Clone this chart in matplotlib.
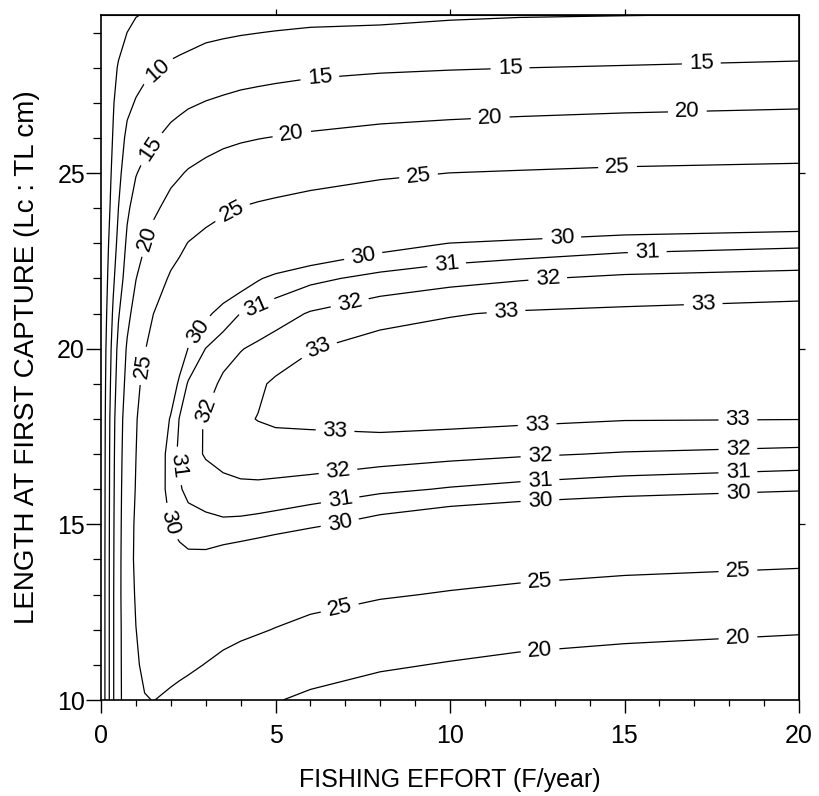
import numpy as np
import matplotlib
matplotlib.use("Agg")
import matplotlib.pyplot as plt
from matplotlib.ticker import MultipleLocator

plt.rcParams['font.family'] = ['Liberation Sans', 'DejaVu Sans']

# Fishing effort F (/year) grid columns
effort = [0, 0.1, 0.2, 0.35, 0.5, 0.75, 1.0, 1.25, 1.5, 2, 2.25, 2.5, 3, 3.5, 4, 4.5, 5, 6, 8, 10, 12, 15, 20]
# Length at first capture Lc (cm) grid rows
lc = [10, 11, 12, 13, 14, 15, 16, 17, 18, 19, 20, 21, 22, 23, 24, 25, 26, 27, 28, 29, 29.5]

# Yield per recruit (rows = lc, columns = effort)
ypr = [
    [0, 4.5, 8.5, 14.6, 18.8, 22.3, 24.0, 24.85, 25.05, 24.5, 24.15, 23.8, 23.1, 22.4, 21.7, 21.0, 20.2, 19.28, 18.0, 17.0, 16.3, 15.8, 15.4],
    [0, 4.5, 8.5, 14.6, 18.8, 22.5, 24.6, 25.6, 26.0, 25.86, 25.7, 25.49, 24.91, 24.26, 23.7, 23.1, 22.44, 21.67, 20.49, 19.74, 19.04, 18.4, 17.7],
    [0, 4.5, 8.5, 14.6, 18.8, 22.6, 24.95, 26.2, 26.9, 26.94, 26.9, 26.88, 26.48, 26.02, 25.63, 25.3, 24.88, 24.05, 22.93, 22.25, 21.64, 21.05, 20.38],
    [0, 4.5, 8.5, 14.6, 18.9, 22.8, 25.4, 26.8, 27.6, 28.02, 28.15, 28.27, 28.04, 27.71, 27.41, 27.15, 26.81, 26.21, 25.32, 24.75, 24.24, 23.68, 23.08],
    [0, 4.5, 8.5, 14.5, 18.7, 23.2, 25.7, 27.3, 28.2, 29.1, 29.6, 29.75, 29.7, 29.41, 29.2, 28.98, 28.71, 28.24, 27.43, 26.91, 26.54, 26.1, 25.65],
    [0, 4.4, 8.4, 14.4, 18.6, 23.0, 25.6, 27.6, 28.6, 30.1, 30.4, 30.6, 30.76, 30.82, 30.76, 30.65, 30.52, 30.21, 29.54, 29.04, 28.7, 28.33, 27.89],
    [0, 4.35, 8.3, 14.2, 18.5, 22.7, 25.2, 27.5, 28.75, 30.6, 30.9, 31.25, 31.44, 31.69, 31.79, 31.8, 31.75, 31.61, 31.21, 30.92, 30.7, 30.43, 30.11],
    [0, 4.25, 8.2, 14.0, 18.3, 22.4, 24.95, 27.2, 28.6, 30.65, 31.15, 31.55, 32.1, 32.35, 32.5, 32.55, 32.54, 32.54, 32.44, 32.27, 32.11, 31.93, 31.76],
    [0, 4.15, 8.0, 13.7, 18.0, 22.1, 24.7, 26.8, 28.2, 30.15, 31.05, 31.5, 32.1, 32.5, 32.85, 33.03, 33.15, 33.2, 33.35, 33.3, 33.2, 33.05, 33.02],
    [0, 3.9, 7.5, 12.8, 17.2, 21.3, 24.0, 26.0, 27.4, 29.04, 30.3, 31.1, 31.5, 32.25, 32.5, 32.85, 33.15, 33.35, 33.6, 33.6, 33.55, 33.5, 33.5],
    [0, 3.6, 7.0, 12.0, 16.3, 20.5, 23.2, 24.8, 26.3, 27.83, 29.0, 30.05, 31.02, 31.48, 31.95, 32.2, 32.46, 32.96, 33.4, 33.5, 33.55, 33.55, 33.6],
    [0, 3.2, 6.1, 10.7, 14.6, 18.9, 21.6, 23.6, 24.98, 26.63, 27.5, 28.42, 29.72, 30.49, 31.02, 31.3, 31.56, 32.09, 32.65, 32.94, 33.1, 33.2, 33.35],
    [0, 2.7, 5.3, 9.2, 12.8, 17.0, 19.9, 22.0, 23.3, 25.42, 26.1, 26.76, 27.85, 28.8, 29.36, 29.9, 30.29, 30.75, 31.33, 31.69, 31.92, 32.18, 32.37],
    [0, 2.3, 4.6, 8.0, 11.2, 15.8, 18.3, 19.8, 21.5, 23.57, 24.3, 25.1, 25.97, 26.69, 27.23, 27.7, 28.14, 28.7, 29.51, 30.02, 30.25, 30.57, 30.79],
    [0, 1.95, 3.9, 6.8, 10.02, 14.3, 16.7, 18.2, 19.2, 21.37, 22.05, 22.75, 23.79, 24.49, 25.1, 25.5, 25.81, 26.34, 27.07, 27.5, 27.79, 28.18, 28.46],
    [0, 1.7, 3.45, 6.0, 8.8, 12.6, 14.8, 16.0, 16.89, 18.96, 19.65, 20.36, 21.26, 21.92, 22.4, 22.78, 23.09, 23.68, 24.52, 25.02, 25.25, 25.57, 25.86],
    [0, 1.5, 3.0, 5.3, 7.7, 11.0, 12.8, 13.8, 14.55, 16.23, 16.85, 17.47, 18.39, 19.14, 19.59, 19.9, 20.15, 20.61, 21.34, 21.77, 22.08, 22.43, 22.78],
    [0, 1.3, 2.65, 4.7, 6.7, 9.0, 10.3, 11.3, 12.02, 13.46, 13.97, 14.48, 15.16, 15.69, 16.19, 16.53, 16.83, 17.33, 17.97, 18.37, 18.67, 19.02, 19.41],
    [0, 1.1, 2.2, 3.9, 5.35, 7.2, 8.3, 9.0, 9.46, 10.65, 11.05, 11.43, 12.14, 12.53, 12.93, 13.22, 13.5, 13.97, 14.45, 14.75, 14.97, 15.23, 15.7],
    [0, 0.75, 1.5, 2.6, 3.6, 5.02, 5.9, 6.4, 6.76, 7.77, 8.1, 8.4, 9.1, 9.45, 9.73, 9.95, 10.17, 10.52, 10.77, 11.23, 11.49, 11.69, 12.02],
    [0, 0.5, 1.0, 1.8, 2.55, 3.8, 4.85, 5.2, 5.4, 6.3, 6.6, 6.9, 7.55, 7.85, 8.03, 8.23, 8.43, 8.78, 8.99, 9.48, 9.76, 9.93, 10.18],
]

unlabeled_levels = [5]
label_levels = [10, 15, 20, 25, 30, 31, 32, 33]
label_spots = [
    (1.63, 27.91),
    (1.4, 25.71), (6.27, 27.71), (11.72, 28.0), (17.2, 28.12),
    (1.35, 23.14), (5.47, 26.09), (11.15, 26.6), (16.8, 26.79), (12.58, 11.43), (18.25, 11.8),
    (1.22, 19.51), (3.75, 23.91), (9.1, 24.9), (14.8, 25.2), (6.85, 12.57), (12.58, 13.35), (18.25, 13.68),
    (2.78, 20.5), (7.5, 22.71), (13.2, 23.2), (1.92, 15.06), (6.85, 15.0), (12.58, 15.62), (18.25, 15.9),
    (4.4, 21.34), (9.9, 22.43), (15.65, 22.8), (2.2, 16.66), (6.85, 15.71), (12.58, 16.2), (18.25, 16.48),
    (3.04, 18.23), (7.1, 21.43), (12.8, 22.0), (6.8, 16.43), (12.58, 16.91), (18.25, 17.15),
    (6.2, 20.1), (11.6, 21.14), (17.25, 21.43), (6.7, 17.5), (12.5, 17.77), (18.25, 17.98),
]

fig = plt.figure(figsize=(8.19, 7.96), dpi=100)
ax = fig.add_axes([101 / 819, 1 - 700 / 796, 698 / 819, 685 / 796])

Z = np.array(ypr)
ax.contour(effort, lc, Z, levels=unlabeled_levels, colors='black', linewidths=0.9)
cs = ax.contour(effort, lc, Z, levels=label_levels, colors='black', linewidths=0.9)
ax.clabel(cs, manual=label_spots, fmt='%d', fontsize=16, inline=True, inline_spacing=7)

ax.set_xlim(0, 20)
ax.set_ylim(10, 29.5)
ax.set_xticks([0, 5, 10, 15, 20])
ax.set_yticks([10, 15, 20, 25])
ax.xaxis.set_minor_locator(MultipleLocator(1))
ax.yaxis.set_minor_locator(MultipleLocator(1))
ax.tick_params(axis='x', which='major', direction='out', length=9, width=1, labelsize=18, pad=8)
ax.tick_params(axis='x', which='minor', direction='out', length=4, width=0.9)
ax.tick_params(axis='y', which='major', direction='out', length=10.5, width=1, labelsize=18, pad=1)
ax.tick_params(axis='y', which='minor', direction='out', length=6, width=0.9)

top = ax.secondary_xaxis('top')
top.set_xticks([5, 10, 15])
top.set_xticklabels([])
top.tick_params(direction='out', length=4, width=0.9)
right = ax.secondary_yaxis('right')
right.set_yticks([15, 20, 25])
right.set_yticklabels([])
right.tick_params(direction='out', length=4, width=0.9)

for sp in ax.spines.values():
    sp.set_linewidth(1.2)

ax.set_xlabel('FISHING EFFORT (F/year)', fontsize=18, labelpad=15)
ax.set_ylabel('LENGTH AT FIRST CAPTURE (Lc : TL cm)', fontsize=20, labelpad=12)

fig.savefig('out.png', dpi=100)
